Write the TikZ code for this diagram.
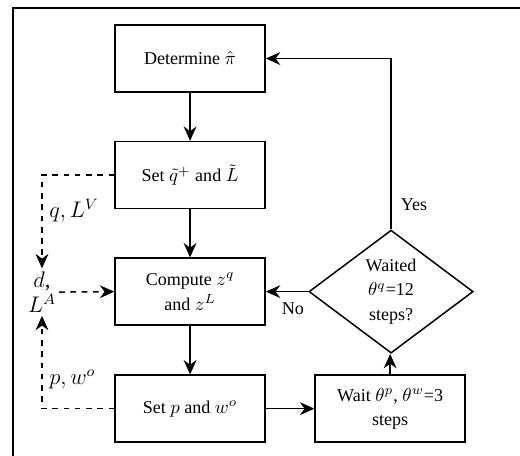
\documentclass[tikz,border=0pt]{standalone}
\usepackage{fontspec}
\setmainfont{Liberation Serif}
\usetikzlibrary{shapes.geometric,arrows.meta}
\tikzset{
  every node/.style={font=\fontsize{9.6}{13}\selectfont},
  block/.style={draw,thick,rectangle,minimum width=2.805cm,minimum height=1.25cm,align=center},
  decide/.style={draw,thick,diamond,minimum width=3.07cm,minimum height=2.3cm,inner sep=0pt,align=center},
  side/.style={font=\fontsize{12}{13.5}\selectfont,align=center,inner sep=1.5pt},
  flow/.style={thick,-{Stealth[length=2.7mm,width=2.4mm]}},
  feed/.style={thick,dashed,-{Stealth[length=2.7mm,width=2.4mm]}}
}
\begin{document}
\begin{tikzpicture}
\useasboundingbox (0,0) rectangle (9.72,-8.51);
\draw[thick] (0.243,-0.15) rectangle (10.5,-9.5);
\node[block] (det) at (3.553,-1.094) {Determine $\hat{\pi}$};
\node[block] (set) at (3.553,-3.273) {Set $\tilde{q}^+$ and $\tilde{L}$};
\node[block] (comp) at (3.553,-5.451) {Compute $z^q$\\ and $z^L$};
\node[block] (setp) at (3.553,-7.639) {Set $p$ and $w^o$};
\node[block] (wait) at (7.293,-7.639) {Wait $\theta^p$, $\theta^w$=3\\ steps};
\node[decide] (dec) at (7.31,-5.451) {Waited\\ $\theta^q$=12\\ steps?};
\node[side] (dl) at (0.785,-5.46) {$d$,\\ $L^A$};
\draw[flow] (det) -- (set);
\draw[flow] (set) -- (comp);
\draw[flow] (comp) -- (setp);
\draw[flow] (setp) -- (wait);
\draw[flow] (wait) -- (wait.north |- dec.south);
\draw[flow] (dec.west) -- (comp.east) node[pos=0.36,below=2pt]{No};
\draw[flow] (dec.north) |- (det.east) node[pos=0.073,right=1.5pt]{Yes};
\draw[feed] (set.west) -| (dl.north) node[pos=0.69,right=2pt,side]{$q,L^V$};
\draw[feed] (dl.east) -- (comp.west);
\draw[feed] (setp.west) -| (dl.south) node[pos=0.656,right=2pt,side]{$p,w^o$};
\end{tikzpicture}
\end{document}
